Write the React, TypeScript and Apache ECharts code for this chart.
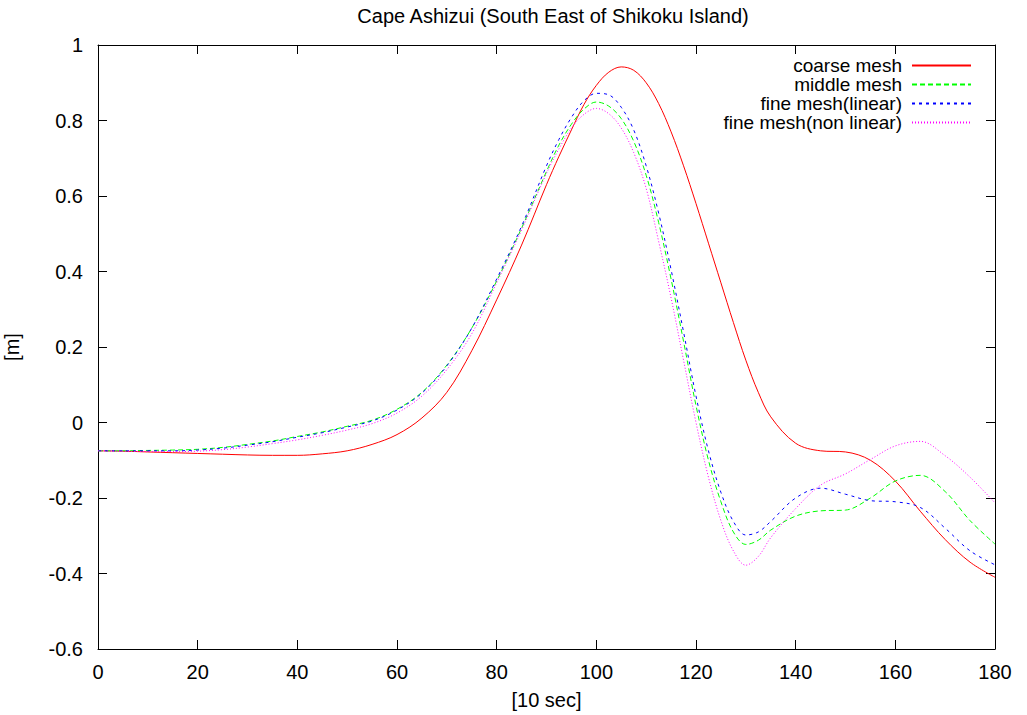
import React, { useEffect, useRef } from "react";
import * as echarts from "echarts";

const titleText = "Cape Ashizui (South East of Shikoku Island)";
const xName = "[10 sec]";
const yName = "[m]";

const xs = [
  0, 5, 10, 15, 20, 25, 30, 35, 40, 45, 50, 55, 60, 65, 70, 75, 80, 85, 90,
  92.5, 95, 97.5, 100, 102.5, 105, 107.5, 110, 112.5, 115, 117.5, 120, 122.5, 125, 127.5, 130, 132.5, 135,
  140, 145, 150, 155, 160, 165, 170, 175, 180,
];

const coarse = [
  -0.075, -0.076, -0.078, -0.08, -0.082, -0.084, -0.086, -0.087, -0.087, -0.083, -0.075, -0.058, -0.032, 0.012, 0.08, 0.19, 0.325, 0.47, 0.63,
  0.705, 0.775, 0.842, 0.893, 0.928, 0.942, 0.933, 0.9, 0.845, 0.77, 0.68, 0.58, 0.475, 0.37, 0.265, 0.165, 0.08, 0.015,
  -0.055, -0.075, -0.078, -0.1, -0.155, -0.235, -0.31, -0.37, -0.41,
];

const middle = [
  -0.075, -0.075, -0.074, -0.073, -0.071, -0.066, -0.058, -0.049, -0.037, -0.025, -0.01, 0.006, 0.035, 0.08, 0.152, 0.25, 0.375, 0.515, 0.665,
  0.735, 0.79, 0.83, 0.849, 0.838, 0.805, 0.745, 0.655, 0.53, 0.38, 0.215, 0.045, -0.1, -0.21, -0.29, -0.323, -0.312, -0.285,
  -0.248, -0.234, -0.232, -0.2, -0.155, -0.14, -0.183, -0.26, -0.322,
];

const fineLinear = [
  -0.075, -0.075, -0.075, -0.075, -0.073, -0.068, -0.06, -0.051, -0.039, -0.027, -0.012, 0.004, 0.033, 0.078, 0.15, 0.25, 0.38, 0.52, 0.68,
  0.75, 0.808, 0.852, 0.872, 0.868, 0.835, 0.775, 0.68, 0.555, 0.405, 0.24, 0.07, -0.075, -0.185, -0.262, -0.298, -0.29, -0.262,
  -0.2, -0.174, -0.19, -0.207, -0.21, -0.225, -0.28, -0.34, -0.377,
];

const fineNonLinear = [
  -0.075, -0.076, -0.077, -0.077, -0.076, -0.072, -0.065, -0.056, -0.046, -0.034, -0.02, -0.003, 0.025, 0.07, 0.14, 0.235, 0.37, 0.51, 0.66,
  0.725, 0.78, 0.816, 0.832, 0.818, 0.78, 0.715, 0.62, 0.48, 0.33, 0.165, 0.0, -0.145, -0.26, -0.34, -0.378, -0.355, -0.305,
  -0.228, -0.166, -0.136, -0.098, -0.062, -0.05, -0.088, -0.145, -0.213,
];

const seriesNames = ["coarse mesh", "middle mesh", "fine mesh(linear)", "fine mesh(non linear)"];
const seriesValues = [coarse, middle, fineLinear, fineNonLinear];
const seriesColors = ["#ff0000", "#00ff00", "#0000ff", "#ff00ff"];
const seriesDash: any[] = ["solid", [5, 3], [3, 4], [1, 2]];

const FONT = "'Liberation Sans', Arial, Helvetica, sans-serif";

export default function App() {
  const ref = useRef<HTMLDivElement>(null);
  useEffect(() => {
    document.body.style.margin = "0";
    const chart = echarts.init(ref.current!, null, { renderer: "svg" });
    const axisCommon = {
      type: "value" as const,
      axisLine: { show: true, onZero: false, lineStyle: { color: "#000", width: 1 } },
      axisTick: { show: true, inside: true, length: 9, lineStyle: { color: "#000", width: 1 } },
      splitLine: { show: false },
    };
    const legends = seriesNames.map((n, i) => ({
      data: [n],
      right: 55,
      top: 56 + i * 19,
      orient: "vertical",
      align: "right",
      padding: 0,
      itemWidth: 59,
      itemHeight: 14,
      selectedMode: false,
      itemStyle: { opacity: 0, borderWidth: 0 },
      textStyle: { fontFamily: FONT, fontSize: 19, lineHeight: 17, color: "#000", padding: [0, 5, 0, 0] },
    }));
    chart.setOption({
      animation: false,
      backgroundColor: "#fff",
      textStyle: { fontFamily: FONT },
      title: {
        text: titleText,
        left: 548,
        textAlign: "center",
        top: 1,
        textStyle: { fontFamily: FONT, fontSize: 20, fontWeight: "normal", color: "#000" },
      },
      legend: legends,
      grid: { left: 98, right: 32, top: 45, bottom: 66, containLabel: false, outerBoundsMode: "none" },
      xAxis: [
        {
          ...axisCommon,
          position: "bottom",
          min: 0,
          max: 180,
          interval: 20,
          name: xName,
          nameLocation: "middle",
          nameGap: 41,
          nameTextStyle: { fontFamily: FONT, fontSize: 20, color: "#000" },
          axisLabel: { show: true, margin: 13, fontFamily: FONT, fontSize: 20, color: "#000" },
        },
        {
          ...axisCommon,
          position: "top",
          min: 0,
          max: 180,
          interval: 20,
          axisLabel: { show: false },
        },
      ],
      yAxis: [
        {
          ...axisCommon,
          position: "left",
          min: -0.6,
          max: 1,
          interval: 0.2,
          name: yName,
          nameLocation: "middle",
          nameGap: 76,
          nameTextStyle: { fontFamily: FONT, fontSize: 20, color: "#000" },
          axisLabel: {
            show: true,
            margin: 15,
            fontFamily: FONT,
            fontSize: 20,
            color: "#000",
            formatter: (v: number) => String(Number(v.toFixed(1))),
          },
        },
        {
          ...axisCommon,
          position: "right",
          min: -0.6,
          max: 1,
          interval: 0.2,
          axisLabel: { show: false },
        },
      ],
      series: seriesNames.map((n, i) => ({
        name: n,
        type: "line",
        xAxisIndex: 0,
        yAxisIndex: 0,
        data: xs.map((x, j) => [x, seriesValues[i][j]]),
        smooth: 0.35,
        showSymbol: false,
        symbol: "none",
        color: seriesColors[i],
        lineStyle: { color: seriesColors[i], width: 1, type: seriesDash[i] },
        z: 2 + i,
      })),
    });
    return () => chart.dispose();
  }, []);
  return <div ref={ref} style={{ width: 1027, height: 715 }} />;
}
